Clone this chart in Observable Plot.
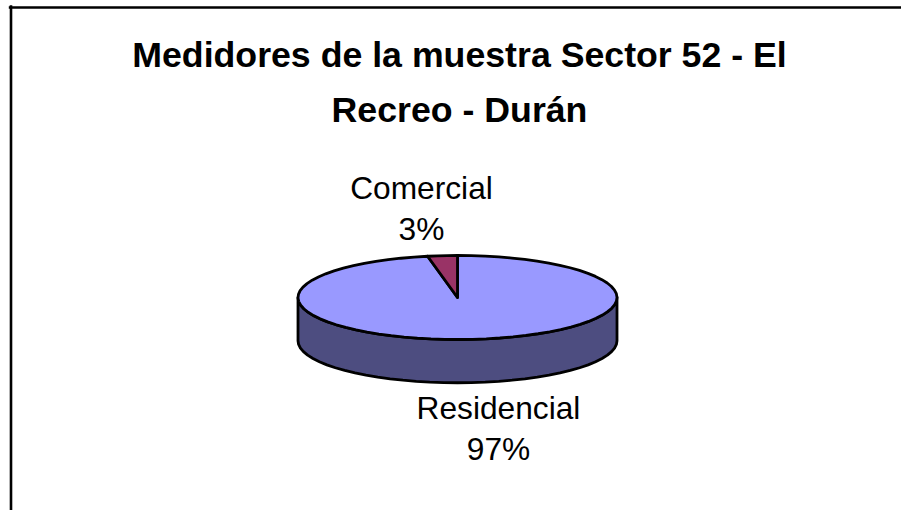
<!DOCTYPE html>
<html><head><meta charset="utf-8">
<script src="https://cdn.jsdelivr.net/npm/d3@7"></script>
<script src="https://cdn.jsdelivr.net/npm/@observablehq/plot@0.6"></script>
<style>html,body{margin:0;padding:0;background:#fff;overflow:hidden}svg{display:block}</style>
</head><body><div id="chart"></div>
<script>
const titleText = "Medidores de la muestra Sector 52 - El\nRecreo - Durán";
const categories = ["Residencial", "Comercial"];
const shares = [97, 3];
const labels = ["Residencial\n97%", "Comercial\n3%"];
const colors = ["#9999FF", "#993366"];
const sideColor = "#4D4D80";
const thickness = 1.03; // wall height in units of the vertical radius

const total = d3.sum(shares);
let acc = 0;
const slices = shares.map((v, i) => {
  const start = acc / total * 2 * Math.PI; acc += v;
  return {name: categories[i], fill: colors[i], label: labels[i], start, end: acc / total * 2 * Math.PI};
});
const pt = (a, drop = 0) => ({x: Math.sin(a), y: Math.cos(a) - drop});
function arcPts(a0, a1, drop = 0) {
  const n = Math.max(2, Math.ceil((a1 - a0) / (2 * Math.PI) * 72));
  return d3.range(n + 1).map(i => pt(a0 + (a1 - a0) * i / n, drop));
}
const wall = [...arcPts(Math.PI / 2, 3 * Math.PI / 2), ...arcPts(Math.PI / 2, 3 * Math.PI / 2, thickness).reverse()];
wall.push(wall[0]);
const faces = slices.map(s => ({...s, pts: [{x: 0, y: 0}, ...arcPts(s.start, s.end), {x: 0, y: 0}]}));
const font = "Liberation Sans, Arial, sans-serif";
const edge = {x: "x", y: "y", stroke: "#000", strokeWidth: 2.8, strokeLinejoin: "round", curve: "linear"};
const mid = s => pt((s.start + s.end) / 2);
const sliceLabel = (s, dx, dy) => Plot.text([s], {
  x: d => mid(d).x, y: d => mid(d).y, text: "label", dx, dy,
  fontFamily: font, fontSize: 31.7, lineHeight: 1.29, fill: "#000", textAnchor: "middle", lineAnchor: "middle"
});

const plot = Plot.plot({
  width: 901, height: 510,
  margin: 0,
  x: {axis: null, domain: [-1, 1], range: [297.5, 616.5]},
  y: {axis: null, domain: [-1, 1], range: [339, 255]},
  marks: [
    Plot.frame({anchor: "top", insetTop: 7, insetLeft: 9.5, stroke: "#000", strokeWidth: 2.4}),
    Plot.frame({anchor: "left", insetLeft: 10.5, insetTop: 6, stroke: "#000", strokeWidth: 2.6}),
    Plot.line(wall, {...edge, fill: sideColor}),
    ...faces.map(f => Plot.line(f.pts, {...edge, fill: f.fill})),
    Plot.text([titleText], {frameAnchor: "top", dx: 8.5, dy: 27, fontFamily: font, fontWeight: "bold", fontSize: 35.7, lineHeight: 1.54, fill: "#000", textAnchor: "middle", lineAnchor: "top"}),
    sliceLabel(slices[1], -21, -49),
    sliceLabel(slices[0], 26, 87)
  ]
});
document.getElementById("chart").append(plot);
</script></body></html>
